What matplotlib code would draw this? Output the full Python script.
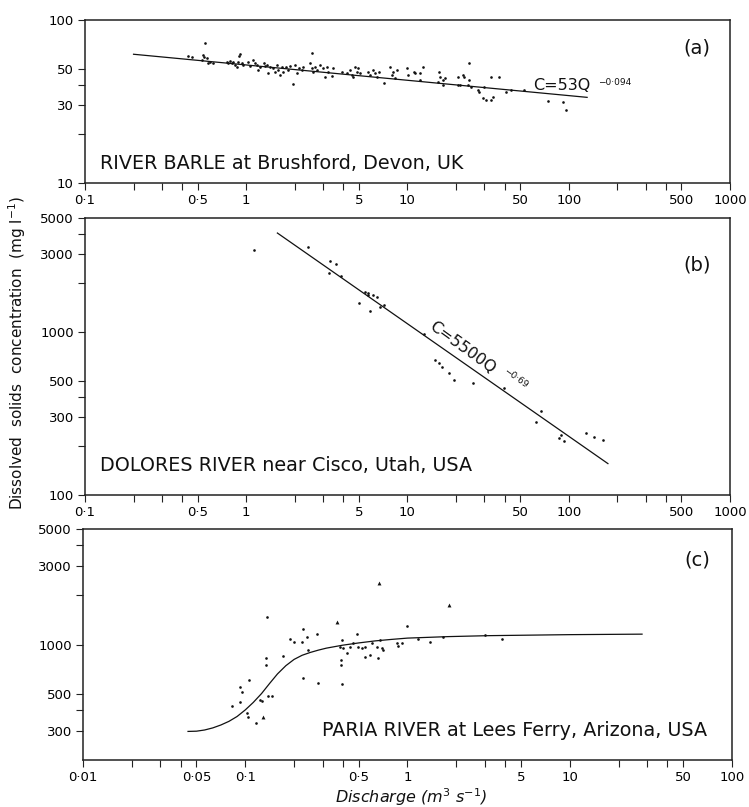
import matplotlib
matplotlib.use("Agg")
import matplotlib.pyplot as plt
import numpy as np
from matplotlib.ticker import FixedLocator, NullFormatter

plt.rcParams['font.family'] = ['DejaVu Sans']

# ---------------- data ----------------
# (a) River Barle at Brushford
barle_q = [0.437, 0.463, 0.556, 0.533, 0.541, 0.548, 0.572, 0.581, 0.598, 0.624,
           0.762, 0.773, 0.796, 0.818, 0.830, 0.854, 0.879, 0.892, 0.918, 0.905, 0.944, 0.957,
           1.03, 1.06, 1.10, 1.14, 1.17, 1.19, 1.22, 1.28, 1.31,
           1.35, 1.37, 1.41, 1.47, 1.51, 1.56, 1.58, 1.63, 1.67, 1.70, 1.77, 1.82, 1.88,
           1.96, 2.02, 2.07, 2.13, 2.23, 2.26, 2.57,
           2.50, 2.57, 2.61, 2.68, 2.76, 2.88, 3.01, 3.10, 3.18, 3.23, 3.42, 3.47,
           3.94, 4.24, 4.43, 4.55, 4.62, 4.75, 4.89, 4.96, 5.11,
           5.73, 5.89, 6.15, 6.32, 6.51, 6.61, 7.10, 7.84, 8.07, 8.42, 8.18, 8.67,
           10.0, 10.1, 10.9, 11.2, 12.0, 12.4, 12.0,
           15.6, 16.0, 16.5, 15.4, 16.7, 17.2,
           23.9, 20.7, 22.0, 22.3, 23.9, 20.5, 21.3, 23.6, 24.6,
           27.2, 27.6, 29.7, 32.8, 36.7, 29.2, 30.5, 32.8, 33.7,
           40.6, 43.6, 52.5, 74.1, 91.9, 95.8]
barle_c = [60.1, 59.3, 72.3, 56.8, 61.0, 59.3, 58.4, 54.5, 55.2, 54.5,
           55.2, 54.5, 56.0, 54.5, 55.2, 53.0, 51.5, 55.2, 61.9, 60.1, 54.5, 53.0,
           55.2, 52.2, 56.8, 54.5, 53.0, 49.4, 51.5, 54.5, 52.2,
           53.0, 47.3, 51.5, 50.8, 48.0, 53.0, 49.4, 46.0, 51.5, 48.0, 51.5, 49.4, 52.2,
           40.5, 53.0, 47.3, 50.8, 49.4, 51.5, 62.8,
           54.5, 50.8, 48.0, 51.5, 49.4, 53.0, 50.8, 44.7, 51.5, 48.0, 45.5, 50.8,
           48.0, 47.3, 49.4, 46.0, 44.7, 51.5, 48.0, 50.8, 47.3,
           48.0, 46.0, 49.4, 47.3, 44.7, 48.0, 41.1, 51.5, 46.0, 44.1, 48.0, 49.4,
           50.8, 46.0, 48.0, 47.3, 47.3, 51.5, 42.9,
           48.0, 44.7, 42.9, 41.7, 39.9, 44.1,
           54.5, 44.7, 46.0, 44.7, 42.9, 39.9, 39.9, 39.9, 38.8,
           37.2, 36.2, 38.8, 44.7, 44.7, 33.2, 32.3, 32.3, 33.7,
           36.2, 37.2, 37.2, 31.8, 31.4, 28.1]
barle_coef, barle_exp = 53, -0.094
barle_fit_q = [0.2, 130]

# (b) Dolores River near Cisco
dolores_q = [1.12, 2.43, 3.32, 3.62, 3.28, 3.89, 5.48, 5.73, 6.07, 6.51, 5.65, 5.03,
             5.89, 6.79, 7.19, 12.6, 14.9, 15.6, 16.3, 18.0, 19.3, 25.4, 39.4,
             67.0, 62.4, 89.1, 86.7, 93.0, 128, 143, 163]
dolores_c = [3180, 3320, 2720, 2610, 2300, 2200, 1760, 1730, 1690, 1640, 1690, 1510,
             1340, 1420, 1460, 971, 673, 644, 610, 560, 507, 486, 453,
             327, 280, 233, 223, 214, 240, 226, 217]
dolores_coef, dolores_exp = 5500, -0.69
dolores_fit_q = [1.56, 175]

# (c) Paria River at Lees Ferry
paria_q = [0.136, 0.993, 0.189, 0.200, 0.224, 0.240, 0.277, 0.227, 0.244, 0.171, 0.134, 0.134,
           0.394, 0.384, 0.400, 0.424, 0.442, 0.488, 0.461, 0.495, 0.525, 0.547, 0.547,
           0.587, 0.604, 0.649, 0.658, 0.677, 0.697, 0.706, 0.389, 0.389,
           0.862, 0.925, 0.874, 0.227, 0.281, 0.394,
           0.1055, 0.0929, 0.0955, 0.0828, 0.0929, 0.123, 0.127, 0.138, 0.146,
           0.1026, 0.104, 0.1165, 1.16, 1.38, 1.66, 3.01, 3.82]
paria_c = [1465, 1291, 1076, 1033, 1033, 1107, 1156, 1238, 925, 849, 826, 750,
           1062, 964, 951, 885, 964, 1156, 1019, 964, 951, 964, 838,
           861, 1019, 964, 826, 1062, 951, 925, 804, 750,
           1019, 1019, 977, 625, 583, 575,
           608, 551, 514, 423, 448, 460, 454, 486, 486,
           384, 363, 334, 1076, 1033, 1107, 1140, 1076]
paria_tri_q = [0.367, 0.667, 1.80, 0.1286]
paria_tri_c = [1365, 2355, 1730, 363]
paria_curve_q = [0.0444, 0.0501, 0.0562, 0.0631, 0.0708, 0.0794, 0.0891, 0.100, 0.112,
                 0.126, 0.141, 0.158, 0.178, 0.200, 0.224, 0.251, 0.282, 0.316, 0.398,
                 0.501, 0.631, 0.794, 1.0, 1.78, 3.16, 10.0, 27.9]
paria_curve_c = [298, 299, 304, 313, 326, 343, 367, 402, 446,
                 505, 580, 664, 745, 813, 861, 895, 925, 951, 991,
                 1023, 1052, 1074, 1094, 1117, 1132, 1148, 1156]

x_ticks_ab = [0.1, 0.5, 1, 5, 10, 50, 100, 500, 1000]
x_labels_ab = ['0·1', '0·5', '1', '5', '10', '50', '100', '500', '1000']
x_ticks_c = [0.01, 0.05, 0.1, 0.5, 1, 5, 10, 50, 100]
x_labels_c = ['0·01', '0·05', '0·1', '0·5', '1', '5', '10', '50', '100']
y_ticks_a = [10, 30, 50, 100]
y_ticks_b = [100, 300, 500, 1000, 3000, 5000]
y_ticks_c = [300, 500, 1000, 3000, 5000]

# ---------------- figure ----------------
fig = plt.figure(figsize=(7.49, 8.07), dpi=100)
ax_a = fig.add_axes([0.1135, 0.7732, 0.8611, 0.2020])
ax_b = fig.add_axes([0.1135, 0.3866, 0.8611, 0.3432])
ax_c = fig.add_axes([0.1108, 0.0582, 0.8665, 0.2862])


def style_axis(ax, xlim, ylim, xt, xl, yt):
    ax.set_xscale('log')
    ax.set_yscale('log')
    ax.set_xlim(*xlim)
    ax.set_ylim(*ylim)
    ax.xaxis.set_major_locator(FixedLocator(xt))
    ax.set_xticklabels(xl)
    lo, hi = np.log10(xlim[0]), np.log10(xlim[1])
    xminor = [m * 10 ** k for k in range(int(np.floor(lo)), int(np.ceil(hi)))
              for m in (2, 3, 4)]
    ax.xaxis.set_minor_locator(FixedLocator(xminor))
    ax.xaxis.set_minor_formatter(NullFormatter())
    ax.yaxis.set_major_locator(FixedLocator(yt))
    ax.set_yticklabels([str(v) for v in yt])
    ylo, yhi = np.log10(ylim[0]), np.log10(ylim[1])
    yminor = [m * 10 ** k for k in range(int(np.floor(ylo)), int(np.ceil(yhi)))
              for m in (2, 4)]
    yminor = [v for v in yminor if ylim[0] < v < ylim[1]]
    ax.yaxis.set_minor_locator(FixedLocator(yminor))
    ax.yaxis.set_minor_formatter(NullFormatter())
    ax.tick_params(which='major', direction='out', length=5, width=0.8,
                   labelsize=9.5, pad=3, color='#222222')
    ax.tick_params(which='minor', direction='out', length=5, width=0.8,
                   color='#222222')
    for s in ax.spines.values():
        s.set_linewidth(1.1)
        s.set_color('#222222')


style_axis(ax_a, (0.1, 1000), (10, 100), x_ticks_ab, x_labels_ab, y_ticks_a)
style_axis(ax_b, (0.1, 1000), (100, 5000), x_ticks_ab, x_labels_ab, y_ticks_b)
style_axis(ax_c, (0.01, 100), (200, 5000), x_ticks_c, x_labels_c, y_ticks_c)

ink = '#111111'
title_size = 13.8
tag_size = 14

# (a)
fq = np.array(barle_fit_q)
ax_a.plot(fq, barle_coef * fq ** barle_exp, color=ink, lw=0.9)
ax_a.plot(barle_q, barle_c, 'o', ms=1.9, color=ink, mec='none')
ax_a.text(90.6, 39.5, 'C=53Q', fontsize=11.5, ha='center', va='center', color=ink)
ax_a.text(153, 41.5, '−0·094', fontsize=6.5, ha='left', va='center', color=ink)
ax_a.text(0.023, 0.12, 'RIVER BARLE at Brushford, Devon, UK', transform=ax_a.transAxes,
          fontsize=title_size, ha='left', va='center', color=ink)
ax_a.text(0.949, 0.828, '(a)', transform=ax_a.transAxes, fontsize=tag_size,
          ha='center', va='center', color=ink)

# (b)
fq = np.array(dolores_fit_q)
ax_b.plot(fq, dolores_coef * fq ** dolores_exp, color=ink, lw=0.9)
ax_b.plot(dolores_q, dolores_c, 'o', ms=1.9, color=ink, mec='none')
ax_b.text(22, 800, 'C=5500Q', fontsize=11.5, ha='center', va='center',
          rotation=-36, rotation_mode='anchor', color=ink)
ax_b.text(46.9, 520, '−0·69', fontsize=6.5, ha='center', va='center',
          rotation=-36, rotation_mode='anchor', color=ink)
ax_b.text(0.023, 0.105, 'DOLORES RIVER near Cisco, Utah, USA', transform=ax_b.transAxes,
          fontsize=title_size, ha='left', va='center', color=ink)
ax_b.text(0.949, 0.83, '(b)', transform=ax_b.transAxes, fontsize=tag_size,
          ha='center', va='center', color=ink)

# (c)
ax_c.plot(paria_curve_q, paria_curve_c, color=ink, lw=0.9)
ax_c.plot(paria_q, paria_c, 'o', ms=1.9, color=ink, mec='none')
ax_c.plot(paria_tri_q, paria_tri_c, '^', ms=2.8, color=ink, mec='none')
ax_c.text(0.961, 0.126, 'PARIA RIVER at Lees Ferry, Arizona, USA', transform=ax_c.transAxes,
          fontsize=title_size, ha='right', va='center', color=ink)
ax_c.text(0.946, 0.866, '(c)', transform=ax_c.transAxes, fontsize=tag_size,
          ha='center', va='center', color=ink)

fig.text(0.023, 0.563, 'Dissolved  solids  concentration  (mg l$^{-1}$)',
         rotation=90, ha='center', va='center', fontsize=11, color=ink)
fig.text(0.549, 0.0124, 'Discharge (m$^3$ s$^{-1}$)', ha='center', va='center',
         fontsize=11.5, style='italic', color=ink)

fig.savefig('out.png', dpi=100)
